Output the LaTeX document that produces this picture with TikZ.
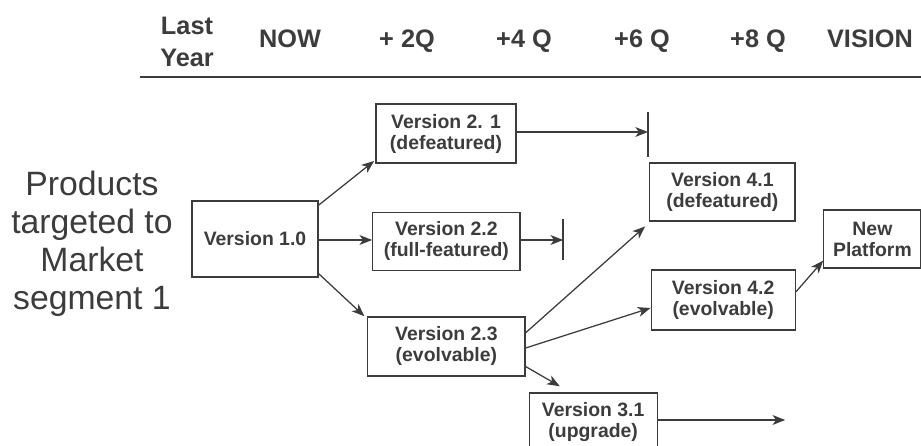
\documentclass[tikz,border=0pt]{standalone}
\usepackage{fontspec}
\setmainfont{Liberation Sans}
\usetikzlibrary{positioning,arrows,arrows.meta}
\definecolor{ink}{HTML}{3C3C3C}

\begin{document}
\begin{tikzpicture}[
  hdr/.style={text=ink,font=\fontsize{18}{22.5}\selectfont\bfseries,align=center,anchor=base},
  ver/.style={draw=ink,line width=0.9pt,text=ink,align=center,inner sep=0pt,
    font=\fontsize{13.8}{15}\selectfont\bfseries},
  con/.style={draw=ink,line width=0.9pt,-{Stealth[length=9pt,width=7pt,inset=2.5pt]}},
  stopbar/.style={draw=ink,line width=1.4pt}
]
\useasboundingbox (0,0) rectangle (23.025,-11.15);
% time line
\node[hdr,anchor=center] (last) at (4.675,-1.05) {Last\\Year};
\node[hdr] (now) at (7.25,-1.2) {NOW};
\node[hdr] (q2) at (10.175,-1.2) {+ 2Q};
\node[hdr] (q4) at (13.1,-1.2) {+4 Q};
\node[hdr] (q6) at (16.05,-1.2) {+6 Q};
\node[hdr] (q8) at (18.95,-1.2) {+8 Q};
\node[hdr] (vision) at (21.75,-1.2) {VISION};
\draw[ink,line width=1.4pt] (3.5,-1.925)--(23.025,-1.925);
% market segment
\node[text=ink,align=center,font=\fontsize{24}{27}\selectfont] (seg) at (2.3,-6.1)
  {Products\\targeted to\\Market\\segment 1};
% versions
\node[ver,minimum width=3.15cm,minimum height=1.9cm] (v10) at (6.375,-5.975) {Version 1.0};
\node[ver,minimum width=3.5cm,minimum height=1.475cm] (v21) at (11.15,-3.34) {Version 2. 1\\(defeatured)};
\node[ver,minimum width=3.68cm,minimum height=1.45cm] (v22) at (11.16,-6.03) {Version 2.2\\(full-featured)};
\node[ver,minimum width=3.93cm,minimum height=1.475cm] (v23) at (11.16,-8.66) {Version 2.3\\(evolvable)};
\node[ver,minimum width=3.2cm,minimum height=1.475cm] (v31) at (14.83,-10.56) {Version 3.1\\(upgrade)};
\node[ver,minimum width=3.63cm,minimum height=1.45cm] (v41) at (18.06,-4.8) {Version 4.1\\(defeatured)};
\node[ver,minimum width=3.6cm,minimum height=1.5cm] (v42) at (18.08,-7.5) {Version 4.2\\(evolvable)};
\node[ver,minimum width=2.43cm,minimum height=1.45cm] (np) at (21.81,-5.975) {New\\Platform};
% dead ends
\coordinate (stop21) at (16.2,-3.3);
\coordinate (stop22) at (14.08,-6.0);
\coordinate (end31) at (19.63,-10.5);
\draw[stopbar] ([yshift=0.5cm]stop21) -- ([yshift=-0.625cm]stop21);
\draw[stopbar] ([yshift=0.525cm]stop22) -- ([yshift=-0.5cm]stop22);
% connectors
\draw[con] ([yshift=-0.12cm]v10.north east) -- ([xshift=-0.03cm,yshift=0.07cm]v21.south west);
\draw[con] (v10.east |- stop22) -- (v22.west |- stop22);
\draw[con] ([yshift=0.1cm]v10.south east) -- ([xshift=-0.07cm]v23.north west);
\draw[con] (v21.east |- stop21) -- (stop21);
\draw[con] (v22.east |- stop22) -- (stop22);
\draw[con] ([yshift=0.34cm]v23.east) -- ([xshift=-0.1cm,yshift=-0.12cm]v41.south west);
\draw[con] ([yshift=-0.04cm]v23.east) -- ([yshift=-0.2cm]v42.west);
\draw[con] ([yshift=0.25cm]v23.south east) -- ([xshift=0.78cm,yshift=0.15cm]v31.north west);
\draw[con] (v31.east |- end31) -- (end31);
\draw[con] ([yshift=0.2cm]v42.east) -- ([yshift=0.2cm]np.south west);
\end{tikzpicture}
\end{document}
